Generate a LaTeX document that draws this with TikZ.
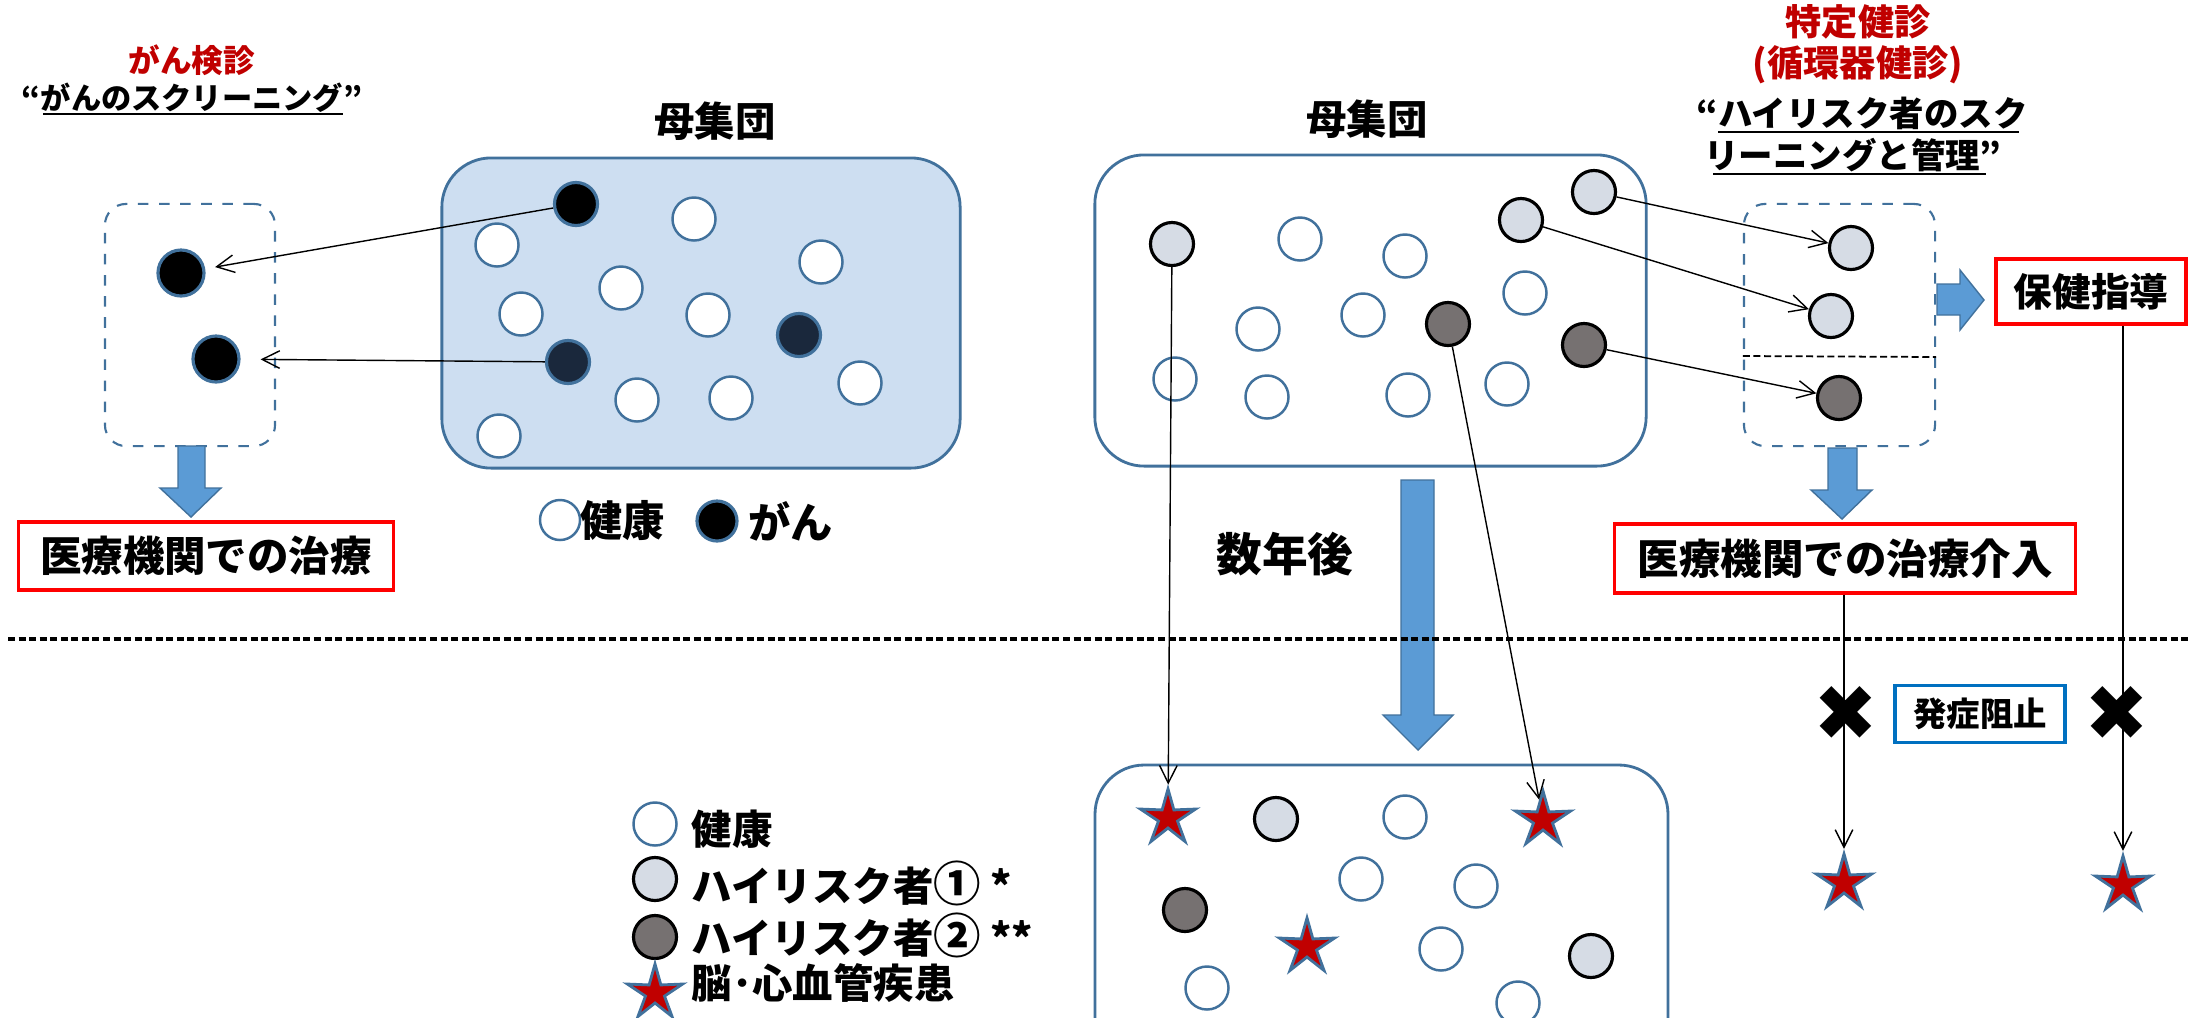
\documentclass[tikz,border=0pt]{standalone}
\usepackage{fontspec}
\setmainfont{Noto Sans CJK JP}
\newfontfamily\symf{DejaVu Sans}
\usetikzlibrary{shapes.geometric,arrows.meta,calc}
\definecolor{bordblue}{RGB}{65,113,156}
\definecolor{arrblue}{RGB}{91,155,213}
\definecolor{boxfill}{RGB}{205,222,241}
\definecolor{risklt}{RGB}{214,220,229}
\definecolor{riskdk}{RGB}{118,113,113}
\definecolor{navy}{RGB}{26,40,60}
\definecolor{darkred}{RGB}{192,0,0}
\definecolor{vivblue}{RGB}{0,112,192}
\newcommand\myfs[1]{\fontsize{#1}{#1}\selectfont}
\begin{document}
\begin{tikzpicture}[x=0.01cm,y=-0.01cm,
  txt/.style={inner sep=0,font=\bfseries\myfs{#1}},
  pt/.style={circle,minimum size=0.43cm,inner sep=0,line width=0.7pt},
  healthy/.style={pt,draw=bordblue,fill=white},
  riskone/.style={pt,draw=black,fill=risklt,line width=0.9pt},
  risktwo/.style={pt,draw=black,fill=riskdk,line width=0.9pt},
  cancer/.style={pt,draw=bordblue,fill=black,line width=0.9pt},
  cancerdk/.style={pt,draw=bordblue,fill=navy,line width=0.9pt},
  disease/.style={star,star points=5,star point ratio=2.9,minimum size=0.58cm,inner sep=0,fill=darkred,draw=bordblue,line width=0.8pt},
  thinarr/.style={line width=0.4pt,-{Straight Barb[length=5pt,width=5pt]}},
  blockarr/.style={fill=arrblue,draw=bordblue,line width=0.4pt},
  redbox/.style={draw=red,line width=0.9pt,fill=white,inner sep=0,font=\bfseries\myfs{11.8}},
  dashbox/.style={draw=bordblue,dashed,line width=0.6pt,rounded corners=6pt,inner sep=0},
  popbox/.style={draw=bordblue,line width=0.8pt,rounded corners=14pt,inner sep=0},
  xmark/.style={inner sep=0,font=\symf\myfs{22}}]
\clip (0,0) rectangle (2190,1017);
\fill[white] (0,0) rectangle (2190,1017);

% ---------- left part ----------
\node[txt=9,text=darkred] (t1) at (192,60) {がん検診};
\node[txt=8.6] (t2) at (192,98) {“がんのスクリーニング”};
\draw[line width=0.7pt] (43,114) -- (343,114);
\node[txt=11.5] (m1) at (715,121) {母集団};

\node[dashbox,minimum width=1.70cm,minimum height=2.42cm] (lbox) at (190,325) {};
\node[popbox,fill=boxfill,minimum width=5.18cm,minimum height=3.10cm] (pop1) at (701,313) {};

\node[cancer,minimum width=0.46cm] (lb1) at (181,273) {};
\node[cancer,minimum width=0.46cm] (lb2) at (216,359) {};

\node[cancer] (lc1) at (576,204) {};
\node[healthy] (h1) at (694,219) {};
\node[healthy] (h2) at (497,245) {};
\node[healthy] (h3) at (821,262) {};
\node[healthy] (h4) at (621,288) {};
\node[healthy] (h5) at (521,314) {};
\node[healthy] (h6) at (708,315) {};
\node[cancerdk] (lc3) at (799,335) {};
\node[cancerdk] (lc2) at (568,362) {};
\node[healthy] (h7) at (637,400) {};
\node[healthy] (h8) at (731,398) {};
\node[healthy] (h9) at (860,383) {};
\node[healthy] (h10) at (499,436) {};

\draw[thinarr,shorten >=0.1cm] (lc1) -- (lb1);
\draw[thinarr,shorten >=0.2cm] (lc2) -- (lb2);

\draw[blockarr] (178,446) -- (205,446) -- (205,488) -- (221,488) -- (191,517) -- (160,488) -- (178,488) -- cycle;
\node[redbox,minimum width=3.74cm,minimum height=0.68cm] (med1) at (206,556) {医療機関での治療};

\node[healthy,minimum size=0.40cm] (lg1) at (560,520) {};
\node[txt=12,anchor=west] (lg1t) at (580,521) {健康};
\node[cancer,minimum size=0.40cm] (lg2) at (717,521) {};
\node[txt=12,anchor=west] (lg2t) at (748,521) {がん};

% ---------- right part ----------
\node[txt=10.3,text=darkred] (t3) at (1858,22) {特定健診};
\node[txt=10.3,text=darkred] (t4) at (1858,65) {(循環器健診)};
\node[txt=9.8] (t5) at (1862,113) {“ハイリスク者のスク};
\draw[line width=0.7pt] (1718,132) -- (2019,132);
\node[txt=9.8] (t6) at (1853,155) {リーニングと管理”};
\draw[line width=0.7pt] (1713,174) -- (1986,174);
\node[txt=11.5] (m2) at (1367,119) {母集団};

\node[popbox,fill=white,minimum width=5.51cm,minimum height=3.11cm] (pop2) at (1370.5,310.5) {};
\node[riskone] (ra1) at (1172,244) {};
\node[healthy] (g1) at (1300,239) {};
\node[healthy] (g2) at (1405,256) {};
\node[riskone] (ra2) at (1521,220) {};
\node[riskone] (ra3) at (1594,192) {};
\node[healthy] (g3) at (1525,293) {};
\node[healthy] (g4) at (1258,329) {};
\node[healthy] (g5) at (1363,315) {};
\node[risktwo] (rb1) at (1448,324) {};
\node[risktwo] (rb2) at (1584,345) {};
\node[healthy] (g6) at (1175,379) {};
\node[healthy] (g7) at (1267,397) {};
\node[healthy] (g8) at (1408,395) {};
\node[healthy] (g9) at (1507,384) {};

\node[dashbox,minimum width=1.91cm,minimum height=2.42cm] (rbox) at (1839.5,325) {};
\draw[line width=0.5pt,dash pattern=on 2pt off 1pt] (rbox.west |- 0,356) -- (rbox.east |- 0,357);
\node[riskone] (d1) at (1851,248) {};
\node[riskone] (d2) at (1831,316) {};
\node[risktwo] (d3) at (1839,398) {};
\draw[thinarr] (ra3) -- (d1);
\draw[thinarr] (ra2) -- (d2);
\draw[thinarr] (rb2) -- (d3);

\draw[blockarr] (1937,284) -- (1960,284) -- (1960,270) -- (1984,300) -- (1960,330) -- (1960,315) -- (1937,315) -- cycle;
\node[redbox,minimum width=1.90cm,minimum height=0.65cm,font=\bfseries\myfs{11}] (hk) at (2091,291.5) {保健指導};

\draw[blockarr] (1828,448) -- (1857,448) -- (1857,490) -- (1872,490) -- (1842,519) -- (1811,490) -- (1828,490) -- cycle;
\node[redbox,minimum width=4.60cm,minimum height=0.69cm] (med2) at (1845,558.5) {医療機関での治療介入};

\node[txt=13] (t7) at (1285,554) {数年後};
\draw[blockarr] (1401,480) -- (1434,480) -- (1434,715) -- (1453,715) -- (1418,750) -- (1383,715) -- (1401,715) -- cycle;

% separator
\draw[line width=0.9pt,dash pattern=on 2pt off 1pt] (8,639) -- (2190,639);

% ---------- lower part ----------
\draw[draw=bordblue,line width=0.8pt,rounded corners=14pt] (1095,1120) -- (1095,765) -- (1668,765) -- (1668,1120);
\node[disease] (s1) at (1168,818) {};
\node[riskone] (q1) at (1276,819) {};
\node[healthy] (q2) at (1405,817) {};
\node[disease] (s2) at (1543,820) {};
\node[healthy] (q3) at (1361,879) {};
\node[healthy] (q4) at (1476,886) {};
\node[risktwo] (q5) at (1185,910) {};
\node[disease] (s5) at (1307,947) {};
\node[healthy] (q6) at (1441,949) {};
\node[riskone] (q7) at (1591,956) {};
\node[healthy] (q8) at (1207,988) {};
\node[healthy] (q9) at (1518,1003) {};

\draw[thinarr] (ra1) -- (s1);
\draw[thinarr] (rb1) -- (s2);

\node[disease] (s3) at (1844,883) {};
\node[disease] (s4) at (2123,885) {};
\draw[thinarr] (s3 |- med2.south) -- (s3);
\draw[thinarr] (s4 |- hk.south) -- (s4);
\node[xmark] (x1) at (1846,713) {✖};
\node[xmark] (x2) at (2117,713) {✖};
\node[draw=vivblue,line width=1pt,minimum width=1.70cm,minimum height=0.57cm,inner sep=0,font=\bfseries\myfs{9.5}] (stop) at (1980,714) {発症阻止};

% legend
\node[healthy] (k1) at (655,824) {};
\node[txt=11.5,anchor=west] (k1t) at (691,829) {健康};
\node[riskone] (k2) at (655,879) {};
\node[txt=11.5,anchor=west] (k2t) at (691,883) {ハイリスク者{\myfs{13.5}①} *};
\node[risktwo] (k3) at (655,937) {};
\node[txt=11.5,anchor=west] (k3t) at (691,935) {ハイリスク者{\myfs{13.5}②} **};
\node[disease] (k4) at (655,993) {};
\node[txt=11.5,anchor=west] (k4t) at (691,983) {脳･心血管疾患};
\end{tikzpicture}
\end{document}
